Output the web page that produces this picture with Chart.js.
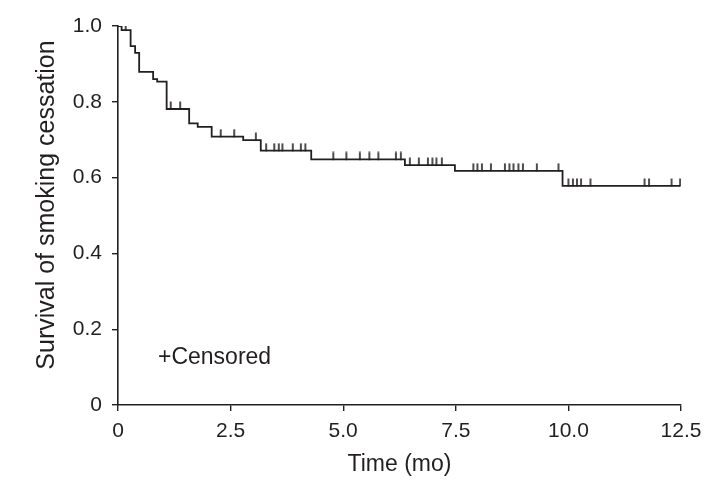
<!DOCTYPE html>
<html>
<head>
<meta charset="utf-8">
<script src="https://cdn.jsdelivr.net/npm/chart.js@4/dist/chart.umd.min.js"></script>
<style>
  html, body { margin: 0; padding: 0; background: #ffffff; }
  #wrap { width: 710px; height: 494px; position: relative; }
</style>
</head>
<body>
<div id="wrap"><canvas id="c" width="710" height="494"></canvas></div>
<script>
// Kaplan-Meier event times (months) and survival level after each step
const eventTimes = [0, 0.08, 0.28, 0.38, 0.47, 0.78, 0.87, 1.08, 1.58, 1.77, 2.08, 2.78, 3.17, 4.29, 6.37, 7.48, 9.87, 12.48];
const survival   = [1.0, 0.989, 0.947, 0.929, 0.879, 0.860, 0.853, 0.781, 0.743, 0.734, 0.708, 0.699, 0.671, 0.648, 0.633, 0.618, 0.578, 0.578];
// Censoring times (months)
const censorTimes = [0.17, 1.17, 1.38, 2.28, 2.58, 3.06, 3.29, 3.47, 3.57, 3.65, 3.88, 4.06, 4.16,
  4.78, 5.07, 5.37, 5.58, 5.78, 6.17, 6.28, 6.48, 6.68, 6.88, 6.98, 7.07, 7.19,
  7.89, 7.98, 8.08, 8.28, 8.59, 8.69, 8.78, 8.89, 8.99, 9.30, 9.78,
  10.0, 10.1, 10.19, 10.28, 10.49, 11.69, 11.79, 12.29, 12.48];
const xTickValues = [0, 2.5, 5.0, 7.5, 10.0, 12.5];
const xTickLabels = ['0', '2.5', '5.0', '7.5', '10.0', '12.5'];
const yTickValues = [0, 0.2, 0.4, 0.6, 0.8, 1.0];
const yTickLabels = ['0', '0.2', '0.4', '0.6', '0.8', '1.0'];
const xTitle = 'Time (mo)';
const yTitle = 'Survival of smoking cessation';
const legendText = '+Censored';

const INK = '#231f20';
const FONT = "'Liberation Sans', Arial, Helvetica, sans-serif";

function levelAt(t) {
  let s = survival[0];
  for (let i = 0; i < eventTimes.length; i++) {
    if (eventTimes[i] <= t) s = survival[i];
  }
  return s;
}

const kmData = eventTimes.map((t, i) => ({x: t, y: survival[i]}));
const censorData = censorTimes.map(t => ({x: t, y: levelAt(t)}));

// censor mark: short vertical stroke rising above the curve
const mark = document.createElement('canvas');
mark.width = 4; mark.height = 16;
(function () {
  const g = mark.getContext('2d');
  g.strokeStyle = INK;
  g.lineWidth = 1.6;
  g.beginPath();
  g.moveTo(2, 0.5);
  g.lineTo(2, 8.5);
  g.stroke();
})();

const textPlugin = {
  id: 'extraText',
  afterDraw(chart) {
    const ctx = chart.ctx;
    ctx.save();
    ctx.fillStyle = INK;
    // legend note
    ctx.font = '23px ' + FONT;
    ctx.textBaseline = 'middle';
    ctx.textAlign = 'left';
    ctx.fillText(legendText, 158, 358);
    // y-axis title
    ctx.translate(47, 205);
    ctx.rotate(-Math.PI / 2);
    ctx.font = '25px ' + FONT;
    ctx.textAlign = 'center';
    ctx.textBaseline = 'middle';
    ctx.fillText(yTitle, 0, 0);
    ctx.restore();
  }
};

new Chart(document.getElementById('c'), {
  type: 'line',
  data: {
    datasets: [
      {
        data: kmData,
        stepped: true,
        borderColor: INK,
        borderWidth: 1.8,
        pointRadius: 0,
        fill: false
      },
      {
        type: 'scatter',
        data: censorData,
        pointStyle: mark,
        pointRadius: 8,
        showLine: false
      }
    ]
  },
  options: {
    responsive: false,
    animation: false,
    events: [],
    layout: { padding: { left: 0, top: 26, right: 29, bottom: 0 } },
    plugins: { legend: { display: false }, tooltip: { enabled: false } },
    scales: {
      x: {
        type: 'linear',
        min: 0, max: 12.5,
        afterBuildTicks: s => { s.ticks = xTickValues.map(v => ({value: v})); },
        afterFit: s => { s.height = 89; },
        grid: { display: true, drawOnChartArea: false, drawTicks: true, tickLength: 6, color: INK, lineWidth: 1.4 },
        border: { display: true, color: INK, width: 1.6 },
        ticks: {
          color: INK, padding: 8, maxRotation: 0,
          font: { family: FONT, size: 21 },
          callback: (v, i) => xTickLabels[i]
        },
        title: { display: true, text: xTitle, color: INK, font: { family: FONT, size: 23 }, padding: { top: 0, bottom: 16 } }
      },
      y: {
        type: 'linear',
        min: 0, max: 1.0,
        afterBuildTicks: s => { s.ticks = yTickValues.map(v => ({value: v})); },
        afterFit: s => { s.width = 118; },
        grid: { display: true, drawOnChartArea: false, drawTicks: true, tickLength: 6, color: INK, lineWidth: 1.4 },
        border: { display: true, color: INK, width: 1.6 },
        ticks: {
          color: INK, padding: 10,
          font: { family: FONT, size: 21 },
          callback: (v, i) => yTickLabels[i]
        },
        title: { display: false }
      }
    }
  },
  plugins: [textPlugin]
});
</script>
</body>
</html>
